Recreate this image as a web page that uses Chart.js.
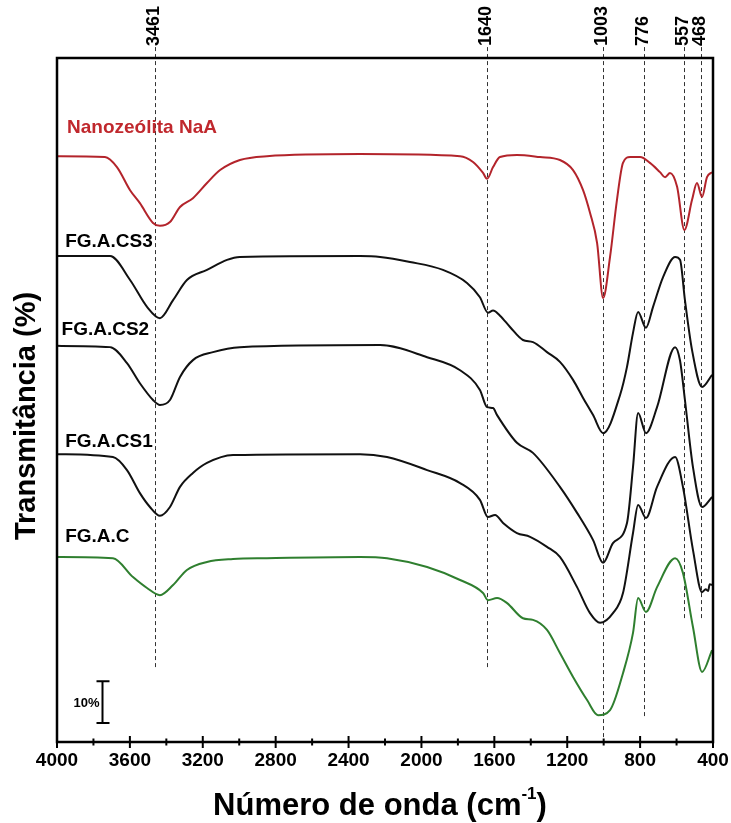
<!DOCTYPE html>
<html>
<head>
<meta charset="utf-8">
<script src="https://cdn.jsdelivr.net/npm/chart.js@4.4.1/dist/chart.umd.min.js"></script>
<style>
  html, body { margin: 0; padding: 0; background: #fff; }
  #wrap { width: 731px; height: 823px; }
</style>
</head>
<body>
<div id="wrap"><canvas id="myChart" width="731" height="823"></canvas></div>
<script>
// FTIR spectra, wavenumber (cm-1) and stacked transmittance (%)
const naaWn = [4000, 3737, 3671, 3599, 3545, 3473, 3435, 3380, 3325, 3254, 3177, 3105, 2996, 2848, 2337, 1788, 1717, 1662, 1640, 1607, 1569, 1476, 1349, 1240, 1168, 1113, 1075, 1036, 1003, 965, 927, 894, 855, 800, 746, 691, 663, 636, 597, 557, 515, 488, 460, 433, 405];
const naaT = [139.6, 139.4, 137.0, 131.5, 128.4, 123.7, 123.0, 123.9, 127.5, 129.6, 133.2, 136.3, 138.7, 139.6, 140.1, 139.6, 138.2, 135.6, 134.2, 137.0, 139.4, 139.9, 139.4, 138.7, 136.3, 131.5, 126.1, 118.9, 105.8, 115.6, 129.2, 138.0, 139.4, 139.4, 138.0, 135.8, 134.6, 135.6, 132.3, 122.0, 129.2, 133.2, 129.9, 134.6, 135.8];

const cs3Wn = [4000, 3709, 3599, 3506, 3435, 3363, 3287, 3177, 3067, 2996, 2337, 2227, 2063, 1882, 1750, 1679, 1635, 1607, 1569, 1514, 1443, 1388, 1311, 1240, 1168, 1113, 1058, 1003, 910, 872, 839, 811, 768, 729, 674, 608, 581, 554, 515, 460, 405];
const cs3T = [115.8, 115.8, 110.1, 103.7, 101.0, 105.3, 110.1, 112.5, 114.9, 115.6, 115.8, 115.6, 114.4, 112.5, 109.4, 106.0, 102.3, 102.8, 101.6, 98.9, 95.8, 95.3, 92.9, 90.6, 86.3, 82.0, 77.9, 73.6, 82.7, 89.4, 97.5, 102.5, 98.7, 103.7, 110.8, 115.6, 114.9, 105.3, 93.4, 84.6, 87.5];

const cs2Wn = [4000, 3709, 3616, 3545, 3473, 3435, 3380, 3325, 3254, 3144, 2996, 2227, 1969, 1788, 1679, 1640, 1607, 1585, 1476, 1388, 1240, 1146, 1058, 1003, 949, 872, 839, 811, 768, 707, 608, 581, 554, 510, 460, 405];
const cs2T = [94.4, 94.1, 90.3, 85.5, 81.5, 80.3, 81.5, 87.0, 91.0, 92.9, 94.1, 94.6, 91.7, 88.6, 83.9, 79.8, 79.6, 77.9, 71.3, 68.9, 60.8, 54.6, 48.1, 42.7, 47.4, 52.2, 65.5, 78.4, 73.6, 79.8, 94.1, 90.9, 81.5, 65.5, 56.0, 58.4];

const cs1Wn = [4000, 3693, 3616, 3545, 3490, 3435, 3380, 3325, 3254, 3177, 3034, 2337, 2189, 1969, 1788, 1679, 1635, 1596, 1552, 1476, 1404, 1311, 1240, 1146, 1075, 1020, 949, 894, 839, 811, 768, 707, 608, 565, 510, 460, 440, 427, 418, 405];
const cs1T = [68.6, 67.9, 64.8, 59.3, 56.0, 53.9, 56.0, 60.8, 64.1, 66.5, 68.4, 68.6, 67.9, 64.8, 61.7, 57.7, 53.6, 54.1, 52.2, 49.8, 48.9, 46.5, 44.1, 36.9, 30.7, 28.4, 30.7, 35.5, 49.8, 56.5, 53.4, 60.8, 67.9, 60.8, 45.8, 35.7, 36.4, 36.0, 37.6, 37.4];

const fgcWn = [4000, 3693, 3583, 3506, 3435, 3363, 3287, 3177, 3034, 2848, 2337, 2189, 1969, 1788, 1662, 1635, 1585, 1530, 1443, 1388, 1311, 1240, 1168, 1091, 1031, 965, 894, 839, 811, 768, 707, 608, 565, 510, 460, 405];
const fgcT = [44.1, 43.8, 39.3, 36.7, 35.0, 37.4, 41.0, 42.9, 43.6, 43.8, 44.1, 43.8, 41.7, 38.6, 35.5, 33.8, 34.3, 33.1, 29.5, 29.1, 26.7, 21.2, 15.5, 10.0, 6.4, 7.6, 16.4, 26.0, 34.3, 31.0, 36.9, 43.8, 40.3, 27.4, 16.7, 21.9];

// marked bands
const peakWn = [3461, 1640, 1003, 776, 557, 468];
const peakLabels = ['3461', '1640', '1003', '776', '557', '468'];

const seriesNames = ['Nanozeólita NaA', 'FG.A.CS3', 'FG.A.CS2', 'FG.A.CS1', 'FG.A.C'];

const FONT = "Arial, 'Liberation Sans', sans-serif";

function toPoints(wn, t) {
  return wn.map((x, i) => ({ x: x, y: t[i] }));
}

// extra drawing: frame, crossing ticks, band lines, labels, scale bar, titles
const annotations = {
  id: 'annotations',
  beforeDatasetsDraw(chart, args, opts) {
    const { ctx, scales: { x, y } } = chart;
    ctx.save();
    ctx.strokeStyle = '#333';
    ctx.lineWidth = 1;
    ctx.setLineDash([4, 3]);
    peakWn.forEach((wn, i) => {
      const px = Math.round(x.getPixelForValue(wn)) + 0.5;
      ctx.beginPath();
      ctx.moveTo(px, y.getPixelForValue(opts.peakTop));
      ctx.lineTo(px, y.getPixelForValue(opts.peakEnd[i]));
      ctx.stroke();
    });
    ctx.restore();
  },
  afterDraw(chart, args, opts) {
    const { ctx, chartArea: a, scales: { x, y } } = chart;
    ctx.save();

    // frame
    ctx.strokeStyle = '#000';
    ctx.lineWidth = 2.5;
    ctx.strokeRect(a.left, a.top, a.right - a.left, a.bottom - a.top);

    // ticks crossing the bottom axis
    ctx.lineWidth = 2;
    x.ticks.forEach(t => {
      const px = x.getPixelForValue(t.value);
      const len = t.value % 400 === 0 ? 6 : 3.5;
      ctx.beginPath();
      ctx.moveTo(px, a.bottom - len);
      ctx.lineTo(px, a.bottom + len);
      ctx.stroke();
    });

    // band labels above the frame
    ctx.fillStyle = '#000';
    ctx.font = 'bold 18px ' + FONT;
    ctx.textAlign = 'left';
    ctx.textBaseline = 'middle';
    peakWn.forEach((wn, i) => {
      const px = x.getPixelForValue(wn) - 1;
      ctx.save();
      ctx.translate(px, y.getPixelForValue(opts.peakTop) - 1);
      ctx.rotate(-Math.PI / 2);
      ctx.fillText(peakLabels[i], 0, 0);
      ctx.restore();
    });

    // series names
    ctx.font = 'bold 19px ' + FONT;
    ctx.textBaseline = 'alphabetic';
    opts.names.forEach((n, i) => {
      ctx.fillStyle = n.color;
      ctx.fillText(seriesNames[i], x.getPixelForValue(n.wn), y.getPixelForValue(n.t));
    });

    // 10% scale bar
    const bx = Math.round(x.getPixelForValue(opts.bar.wn)) + 0.5;
    const b0 = y.getPixelForValue(opts.bar.from);
    const b1 = y.getPixelForValue(opts.bar.from + 10);
    ctx.strokeStyle = '#000';
    ctx.lineWidth = 2;
    ctx.beginPath();
    ctx.moveTo(bx, b0); ctx.lineTo(bx, b1);
    ctx.moveTo(bx - 6, b0); ctx.lineTo(bx + 7, b0);
    ctx.moveTo(bx - 6, b1); ctx.lineTo(bx + 7, b1);
    ctx.stroke();
    ctx.fillStyle = '#000';
    ctx.font = 'bold 13px ' + FONT;
    ctx.textAlign = 'right';
    ctx.textBaseline = 'middle';
    ctx.fillText('10%', bx - 3, (b0 + b1) / 2 + 1);

    // axis titles
    ctx.font = 'bold 29px ' + FONT;
    ctx.textAlign = 'center';
    ctx.save();
    ctx.translate(27, (a.top + a.bottom) / 2 + 16);
    ctx.rotate(-Math.PI / 2);
    ctx.fillText('Transmitância (%)', 0, 0);
    ctx.restore();

    const main = 'Número de onda (cm';
    ctx.font = 'bold 31px ' + FONT;
    const w1 = ctx.measureText(main).width;
    const w3 = ctx.measureText(')').width;
    ctx.font = 'bold 17px ' + FONT;
    const w2 = ctx.measureText('-1').width;
    let tx = (a.left + a.right) / 2 - 5 - (w1 + w2 + w3) / 2;
    const ty = 815;
    ctx.textAlign = 'left';
    ctx.textBaseline = 'alphabetic';
    ctx.font = 'bold 31px ' + FONT;
    ctx.fillText(main, tx, ty);
    ctx.font = 'bold 17px ' + FONT;
    ctx.fillText('-1', tx + w1, ty - 16);
    ctx.font = 'bold 31px ' + FONT;
    ctx.fillText(')', tx + w1 + w2, ty);

    ctx.restore();
  }
};

const ctx = document.getElementById('myChart').getContext('2d');

const lineStyle = {
  pointRadius: 0,
  borderWidth: 2,
  fill: false,
  cubicInterpolationMode: 'monotone'
};

const myChart = new Chart(ctx, {
  type: 'line',
  data: {
    datasets: [
      { label: seriesNames[0], data: toPoints(naaWn, naaT), borderColor: '#b3242b', ...lineStyle },
      { label: seriesNames[1], data: toPoints(cs3Wn, cs3T), borderColor: '#111', ...lineStyle },
      { label: seriesNames[2], data: toPoints(cs2Wn, cs2T), borderColor: '#111', ...lineStyle },
      { label: seriesNames[3], data: toPoints(cs1Wn, cs1T), borderColor: '#111', ...lineStyle },
      { label: seriesNames[4], data: toPoints(fgcWn, fgcT), borderColor: '#2f7f2f', ...lineStyle }
    ]
  },
  options: {
    responsive: false,
    animation: false,
    devicePixelRatio: 1,
    layout: { padding: { left: 57, top: 58, right: 18, bottom: 0 } },
    plugins: {
      legend: { display: false },
      tooltip: { enabled: false },
      annotations: {
        peakTop: 165.6,
        peakEnd: [17.6, 17.6, 0, 5.7, 29.1, 29.5],
        names: [
          { wn: 3945, t: 145.1, color: '#c0282d' },
          { wn: 3955, t: 118.0, color: '#000' },
          { wn: 3975, t: 97.0, color: '#000' },
          { wn: 3955, t: 70.3, color: '#000' },
          { wn: 3955, t: 47.7, color: '#000' }
        ],
        bar: { wn: 3753, from: 4.5 }
      }
    },
    scales: {
      x: {
        type: 'linear',
        reverse: true,
        min: 400,
        max: 4000,
        afterFit: (scale) => {
          scale.height = 81;
          scale.paddingLeft = 0;
          scale.paddingRight = 0;
        },
        grid: { display: false, drawTicks: false },
        border: { display: false },
        ticks: {
          stepSize: 200,
          autoSkip: false,
          maxRotation: 0,
          padding: 7,
          color: '#000',
          font: { family: FONT, size: 19, weight: 'bold' },
          callback: (v) => (v % 400 === 0 ? String(v) : '')
        }
      },
      y: {
        display: false,
        min: 0,
        max: 163
      }
    }
  },
  plugins: [annotations]
});
</script>
</body>
</html>
